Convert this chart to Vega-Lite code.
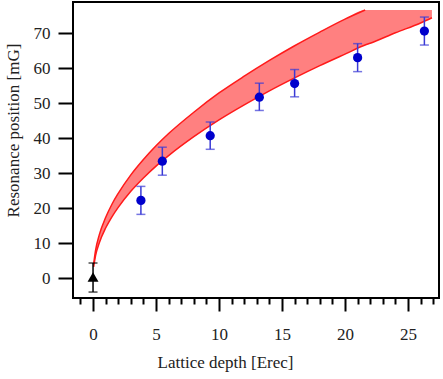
{
  "$schema": "https://vega.github.io/schema/vega-lite/v6.json",
  "width": 366,
  "height": 296,
  "autosize": "none",
  "padding": {"left": 73, "top": 2, "right": 4, "bottom": 81},
  "config": {
    "font": "Liberation Serif",
    "view": {"stroke": "#000", "strokeWidth": 2},
    "axis": {"domain": false, "grid": false, "labelFont": "Liberation Serif, Times New Roman, serif", "titleFont": "Liberation Serif, Times New Roman, serif", "labelFontSize": 17, "titleFontSize": 17, "labelColor": "#222", "titleColor": "#222", "titleFontWeight": "normal", "tickColor": "#000", "tickWidth": 2, "labelOverlap": false, "labelFlush": false, "labelBound": false},
    "axisX": {"labelPadding": 15, "titlePadding": 12, "titleX": 152},
    "axisY": {"tickSize": 15, "labelPadding": 8, "titlePadding": 11, "titleY": 128}
  },
  "datasets": {
    "band": [
      {"x": 0.05, "lo": 3.2, "hi": 4.0},
      {"x": 0.2, "lo": 6.4, "hi": 7.9},
      {"x": 0.5, "lo": 10.1, "hi": 12.4},
      {"x": 1, "lo": 14.3, "hi": 17.3},
      {"x": 1.5, "lo": 17.5, "hi": 21.1},
      {"x": 2, "lo": 20.2, "hi": 24.2},
      {"x": 3, "lo": 24.8, "hi": 29.5},
      {"x": 4, "lo": 28.6, "hi": 33.9},
      {"x": 5, "lo": 32.0, "hi": 37.8},
      {"x": 6, "lo": 35.0, "hi": 41.3},
      {"x": 8, "lo": 40.4, "hi": 47.4},
      {"x": 10, "lo": 45.2, "hi": 52.9},
      {"x": 12, "lo": 49.5, "hi": 57.7},
      {"x": 14, "lo": 53.5, "hi": 62.2},
      {"x": 16, "lo": 57.2, "hi": 66.4},
      {"x": 18, "lo": 60.7, "hi": 70.3},
      {"x": 20, "lo": 64.0, "hi": 74.0},
      {"x": 21.6, "lo": 66.6, "hi": 76.6},
      {"x": 22, "lo": 67.1, "hi": 76.6},
      {"x": 24, "lo": 70.1, "hi": 76.6},
      {"x": 26, "lo": 72.9, "hi": 76.6},
      {"x": 26.9, "lo": 74.4, "hi": 76.6}
    ],
    "pts": [
      {"x": 0, "y": 0.3, "lo": -4.0, "hi": 4.3, "kind": "ref"},
      {"x": 3.8, "y": 22.2, "lo": 18.2, "hi": 26.2, "kind": "meas"},
      {"x": 5.5, "y": 33.4, "lo": 29.4, "hi": 37.4, "kind": "meas"},
      {"x": 9.3, "y": 40.7, "lo": 36.8, "hi": 44.6, "kind": "meas"},
      {"x": 13.2, "y": 51.7, "lo": 47.9, "hi": 55.7, "kind": "meas"},
      {"x": 16.0, "y": 55.6, "lo": 51.8, "hi": 59.6, "kind": "meas"},
      {"x": 21.0, "y": 63.0, "lo": 59.0, "hi": 67.0, "kind": "meas"},
      {"x": 26.3, "y": 70.6, "lo": 66.6, "hi": 74.6, "kind": "meas"}
    ]
  },
  "encoding": {
    "x": {"field": "x", "type": "quantitative", "title": "Lattice depth [Erec]",
      "scale": {"domain": [-1.59, 27.46], "nice": false, "zero": false},
      "axis": {"values": [-1,0,1,2,3,4,5,6,7,8,9,10,11,12,13,14,15,16,17,18,19,20,21,22,23,24,25,26,27],
        "labelExpr": "indexof([0,5,10,15,20,25], datum.value) >= 0 ? datum.label : ''",
        "tickSize": {"condition": {"test": "indexof([0,5,10,15,20,25], datum.value) >= 0", "value": 13}, "value": 6}}}
  },
  "layer": [
    {
      "data": {"name": "band"},
      "mark": {"type": "area", "color": "#ff8080", "interpolate": "monotone", "clip": true},
      "encoding": {
        "y": {"field": "lo", "type": "quantitative", "title": "Resonance position [mG]", "scale": {"domain": [-5.7, 78.9], "nice": false, "zero": false},
          "axis": {"values": [0,10,20,30,40,50,60,70]}},
        "y2": {"field": "hi"}
      }
    },
    {
      "data": {"name": "band"},
      "transform": [{"filter": "datum.x <= 21.6"}],
      "mark": {"type": "line", "color": "#ff1a1a", "strokeWidth": 1.5, "interpolate": "monotone", "clip": true},
      "encoding": {"y": {"field": "hi", "type": "quantitative", "title": "Resonance position [mG]"}}
    },
    {
      "data": {"name": "band"},
      "mark": {"type": "line", "color": "#ff1a1a", "strokeWidth": 1.5, "interpolate": "monotone", "clip": true},
      "encoding": {"y": {"field": "lo", "type": "quantitative", "title": "Resonance position [mG]"}}
    },
    {
      "data": {"name": "pts"},
      "transform": [{"filter": "datum.kind === 'meas'"}],
      "mark": {"type": "errorbar", "ticks": {"size": 9, "color": "#3a3ad6", "thickness": 1.5}, "rule": {"color": "#3a3ad6", "strokeWidth": 1.5}},
      "encoding": {"y": {"field": "lo", "type": "quantitative", "title": "Resonance position [mG]"}, "y2": {"field": "hi"}}
    },
    {
      "data": {"name": "pts"},
      "transform": [{"filter": "datum.kind === 'ref'"}],
      "mark": {"type": "errorbar", "ticks": {"size": 9, "color": "#000", "thickness": 1.5}, "rule": {"color": "#000", "strokeWidth": 1.5}},
      "encoding": {"y": {"field": "lo", "type": "quantitative", "title": "Resonance position [mG]"}, "y2": {"field": "hi"}}
    },
    {
      "data": {"name": "pts"},
      "transform": [{"filter": "datum.kind === 'meas'"}],
      "mark": {"type": "point", "shape": "circle", "filled": true, "color": "#0000cc", "opacity": 1, "size": 85},
      "encoding": {"y": {"field": "y", "type": "quantitative", "title": "Resonance position [mG]"}}
    },
    {
      "data": {"name": "pts"},
      "transform": [{"filter": "datum.kind === 'ref'"}],
      "mark": {"type": "point", "shape": "triangle-up", "filled": true, "color": "#000", "opacity": 1, "size": 120},
      "encoding": {"y": {"field": "y", "type": "quantitative", "title": "Resonance position [mG]"}}
    }
  ]
}
